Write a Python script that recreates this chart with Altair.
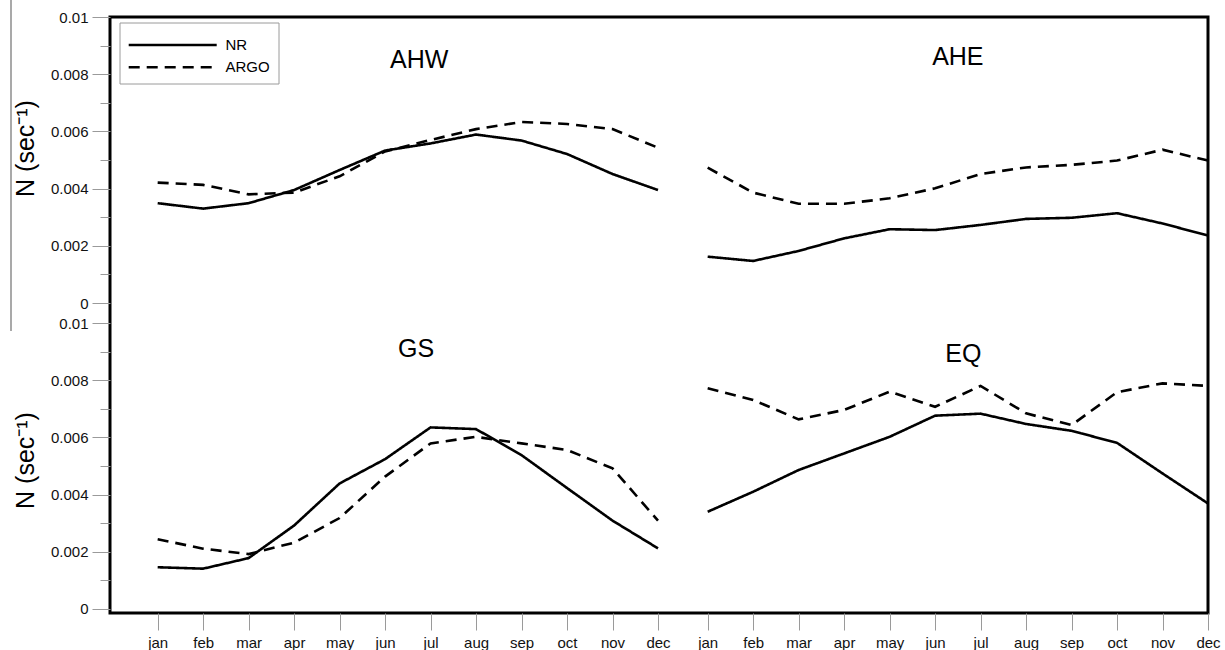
import altair as alt
import pandas as pd

MONTHS = ["jan", "feb", "mar", "apr", "may", "jun", "jul", "aug", "sep", "oct", "nov", "dec"]
MONTH_NUM = list(range(1, 13))
SERIES = ["NR", "ARGO"]

# Buoyancy frequency N (sec^-1), monthly climatology per region
AHW_NR = [0.00349, 0.00330, 0.00349, 0.00395, 0.00465, 0.00533, 0.00558, 0.00589, 0.00568, 0.00521, 0.00451, 0.00395]
AHW_ARGO = [0.00421, 0.00413, 0.00380, 0.00386, 0.00443, 0.00530, 0.00570, 0.00608, 0.00633, 0.00626, 0.00608, 0.00543]
AHE_NR = [0.00162, 0.00147, 0.00182, 0.00226, 0.00258, 0.00255, 0.00273, 0.00294, 0.00298, 0.00314, 0.00278, 0.00236]
AHE_ARGO = [0.00473, 0.00386, 0.00347, 0.00347, 0.00366, 0.00401, 0.00451, 0.00474, 0.00483, 0.00498, 0.00536, 0.00498]
GS_NR = [0.00146, 0.00141, 0.00178, 0.00292, 0.00439, 0.00524, 0.00635, 0.00629, 0.00538, 0.00423, 0.00309, 0.00212]
GS_ARGO = [0.00244, 0.00211, 0.00192, 0.00232, 0.00318, 0.00463, 0.00579, 0.00602, 0.00579, 0.00556, 0.00492, 0.00309]
EQ_NR = [0.00340, 0.00410, 0.00486, 0.00544, 0.00602, 0.00676, 0.00683, 0.00647, 0.00623, 0.00581, 0.00474, 0.00369]
EQ_ARGO = [0.00772, 0.00731, 0.00663, 0.00696, 0.00760, 0.00707, 0.00780, 0.00684, 0.00643, 0.00758, 0.00789, 0.00780]

Y_MAJOR = [0.0, 0.002, 0.004, 0.006, 0.008, 0.01]
Y_MINOR = [0.001, 0.003, 0.005, 0.007, 0.009]

# Panel name and where its label sits (month position, N value)
LABELS = {
    "AHW": (6.75, 0.00851),
    "AHE": (6.50, 0.00860),
    "GS": (6.68, 0.00908),
    "EQ": (6.62, 0.00891),
}

FONT = "Liberation Sans"
W, H = 1098, 596

# Left and right month blocks share one frame; top and bottom rows stack inside it.
X_LEFT = [-0.048, 24.092]
X_RIGHT = [-12.14, 12.0]
Y_TOP = [-0.010839, 0.01]
Y_BOTTOM = [-0.00014, 0.0207]

dash_scale = alt.Scale(domain=SERIES, range=[[1, 0], [11, 7]])

month_expr = "[" + ",".join(f"'{m}'" for m in MONTHS) + "][datum.value - 1]"


def x_axis():
    return alt.Axis(values=MONTH_NUM, labelExpr=month_expr, orient="bottom", domain=False,
                    grid=False, tickSize=17, tickColor="#9a9a9a", tickWidth=1,
                    labelFontSize=15, labelPadding=5, labelColor="#111", labelFlush=False,
                    labelFont=FONT, title=None)


def y_major(title_y):
    return alt.Axis(values=Y_MAJOR, format=".3~f", orient="left", domain=False, grid=False,
                    tickSize=18, tickColor="#9a9a9a", tickWidth=1, labelFontSize=15,
                    labelPadding=4, labelColor="#111", labelFlush=False, labelFont=FONT,
                    title="N (sec⁻¹)", titleAngle=270, titleX=-77, titleY=title_y,
                    titleFontSize=25, titleFontWeight="normal", titleBaseline="alphabetic",
                    titleAlign="center", titleColor="black", titleFont=FONT)


def y_minor():
    return alt.Axis(values=Y_MINOR, orient="left", domain=False, grid=False, labels=False,
                    tickSize=10, tickColor="#9a9a9a", tickWidth=1, title=None)


def panel(nr, argo, xdom, ydom, xax, yax):
    df = pd.DataFrame({
        "month": MONTH_NUM * 2,
        "value": nr + argo,
        "series": ["NR"] * 12 + ["ARGO"] * 12,
    })
    return alt.Chart(df).mark_line(color="black", strokeWidth=2.6).encode(
        x=alt.X("month:Q", scale=alt.Scale(domain=xdom, nice=False, zero=False), axis=xax),
        y=alt.Y("value:Q", scale=alt.Scale(domain=ydom, nice=False, zero=False), axis=yax),
        strokeDash=alt.StrokeDash("series:N", scale=dash_scale, legend=None),
        detail="series:N",
    )


def label(name, xdom, ydom):
    mx, vy = LABELS[name]
    df = pd.DataFrame({"month": [mx], "value": [vy], "name": [name]})
    return alt.Chart(df).mark_text(fontSize=25, font=FONT, color="black",
                                   align="center", baseline="middle").encode(
        x=alt.X("month:Q", scale=alt.Scale(domain=xdom, nice=False, zero=False), axis=None),
        y=alt.Y("value:Q", scale=alt.Scale(domain=ydom, nice=False, zero=False), axis=None),
        text="name:N",
    )


layers = [
    panel(AHW_NR, AHW_ARGO, X_LEFT, Y_TOP, None, y_major(131)),
    panel(AHE_NR, AHE_ARGO, X_RIGHT, Y_TOP, None, y_minor()),
    panel(GS_NR, GS_ARGO, X_LEFT, Y_BOTTOM, x_axis(), y_major(443)),
    panel(EQ_NR, EQ_ARGO, X_RIGHT, Y_BOTTOM, x_axis(), y_minor()),
    label("AHW", X_LEFT, Y_TOP),
    label("AHE", X_RIGHT, Y_TOP),
    label("GS", X_LEFT, Y_BOTTOM),
    label("EQ", X_RIGHT, Y_BOTTOM),
]

# Legend box in the upper-left corner of the frame
legend_box = alt.Chart(pd.DataFrame({"k": [0]})).mark_rect(
    fill="white", stroke="#9a9a9a", strokeWidth=1
).encode(x=alt.value(10), x2=alt.value(169), y=alt.value(6), y2=alt.value(67))
layers.append(legend_box)

for i, s in enumerate(SERIES):
    row_y = 28 + 22.3 * i
    sdf = pd.DataFrame({"series": [s]})
    layers.append(
        alt.Chart(sdf).mark_rule(color="black", strokeWidth=2.6).encode(
            x=alt.value(18.7), x2=alt.value(106.7), y=alt.value(row_y),
            strokeDash=alt.StrokeDash("series:N", scale=dash_scale, legend=None),
        )
    )
    layers.append(
        alt.Chart(sdf).mark_text(align="left", baseline="middle", fontSize=15,
                                 font=FONT, color="black").encode(
            x=alt.value(115.5), y=alt.value(row_y), text="series:N",
        )
    )

# Thin vertical rule at the far left edge
layers.append(
    alt.Chart(pd.DataFrame({"k": [0]})).mark_rule(color="#8c8c8c", strokeWidth=1.5).encode(
        x=alt.value(-99), y=alt.value(-17), y2=alt.value(314)
    )
)

chart = (
    alt.layer(*layers)
    .resolve_scale(x="independent", y="independent")
    .properties(
        width=W,
        height=H,
        autosize=alt.AutoSizeParams(type="none"),
        padding={"left": 110, "top": 17, "right": 17, "bottom": 37},
        background="white",
    )
    .configure_view(stroke="black", strokeWidth=3)
)

chart.save("out.html", embed_options={"renderer": "svg", "actions": False})
